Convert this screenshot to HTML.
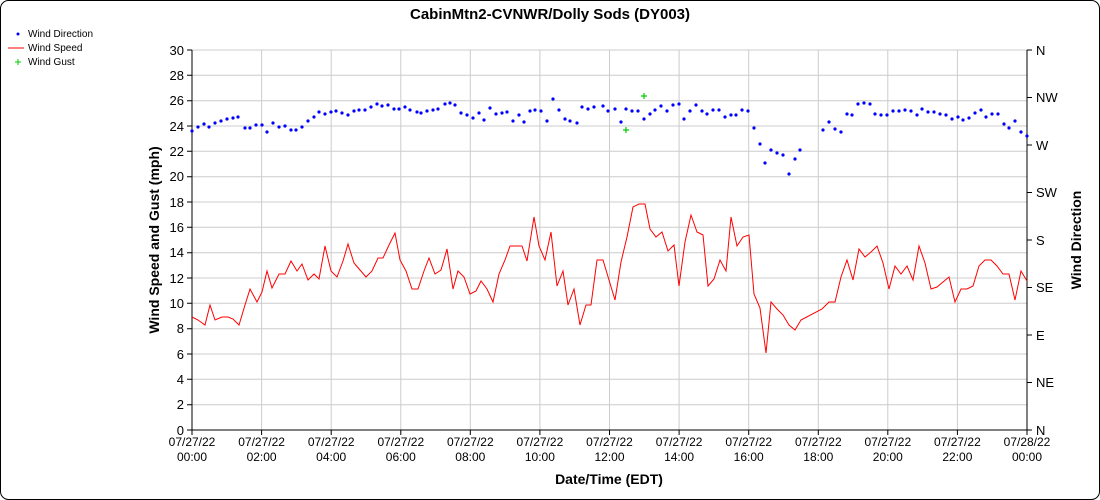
<!DOCTYPE html>
<html><head><meta charset="utf-8"><style>
body{margin:0;background:#fff;}
svg{display:block;font-family:"Liberation Sans",sans-serif;}
</style></head><body>
<svg width="1100" height="500" viewBox="0 0 1100 500">
<rect x="0.5" y="0.5" width="1099" height="499" rx="8" fill="#fff" stroke="#000"/>
<text x="550" y="19" font-size="15" font-weight="bold" text-anchor="middle">CabinMtn2-CVNWR/Dolly Sods (DY003)</text>
<g font-size="10">
<circle cx="18" cy="34" r="1.5" fill="#00f"/><text x="28" y="37">Wind Direction</text>
<line x1="8" y1="48" x2="24" y2="48" stroke="#f00"/><text x="28" y="51">Wind Speed</text>
<path d="M15 62h6M18 59v6" stroke="#0c0" fill="none"/><text x="28" y="65">Wind Gust</text>
</g>
<g stroke="#ccc" stroke-width="1" fill="none">
<path d="M192 50H1027M192 75.3H1027M192 100.7H1027M192 126H1027M192 151.3H1027M192 176.7H1027M192 202H1027M192 227.3H1027M192 252.7H1027M192 278H1027M192 303.3H1027M192 328.7H1027M192 354H1027M192 379.3H1027M192 404.7H1027"/>
<path d="M261.6 50V430M331.2 50V430M400.8 50V430M470.3 50V430M539.9 50V430M609.5 50V430M679.1 50V430M748.7 50V430M818.3 50V430M887.8 50V430M957.4 50V430"/>
</g>
<g stroke="#000" fill="none">
<path d="M192 50V430H1027V50"/>
<path d="M187 50H192M187 75.3H192M187 100.7H192M187 126H192M187 151.3H192M187 176.7H192M187 202H192M187 227.3H192M187 252.7H192M187 278H192M187 303.3H192M187 328.7H192M187 354H192M187 379.3H192M187 404.7H192M187 430H192"/>
<path d="M1027 50H1032M1027 97.5H1032M1027 145H1032M1027 192.5H1032M1027 240H1032M1027 287.5H1032M1027 335H1032M1027 382.5H1032M1027 430H1032"/>
<path d="M192 430V435M261.6 430V435M331.2 430V435M400.8 430V435M470.3 430V435M539.9 430V435M609.5 430V435M679.1 430V435M748.7 430V435M818.3 430V435M887.8 430V435M957.4 430V435M1027 430V435"/>
</g>
<g font-size="13" text-anchor="end">
<text x="184" y="55">30</text><text x="184" y="80">28</text><text x="184" y="105">26</text><text x="184" y="131">24</text><text x="184" y="156">22</text><text x="184" y="181">20</text><text x="184" y="207">18</text><text x="184" y="232">16</text><text x="184" y="257">14</text><text x="184" y="283">12</text><text x="184" y="308">10</text><text x="184" y="333">8</text><text x="184" y="359">6</text><text x="184" y="384">4</text><text x="184" y="409">2</text><text x="184" y="435">0</text>
</g>
<g font-size="13">
<text x="1036" y="55">N</text><text x="1036" y="102">NW</text><text x="1036" y="150">W</text><text x="1036" y="197">SW</text><text x="1036" y="245">S</text><text x="1036" y="292">SE</text><text x="1036" y="340">E</text><text x="1036" y="387">NE</text><text x="1036" y="435">N</text>
</g>
<g font-size="12" text-anchor="middle">
<text x="192" y="446">07/27/22</text><text x="192" y="461">00:00</text>
<text x="261.6" y="446">07/27/22</text><text x="261.6" y="461">02:00</text>
<text x="331.2" y="446">07/27/22</text><text x="331.2" y="461">04:00</text>
<text x="400.8" y="446">07/27/22</text><text x="400.8" y="461">06:00</text>
<text x="470.3" y="446">07/27/22</text><text x="470.3" y="461">08:00</text>
<text x="539.9" y="446">07/27/22</text><text x="539.9" y="461">10:00</text>
<text x="609.5" y="446">07/27/22</text><text x="609.5" y="461">12:00</text>
<text x="679.1" y="446">07/27/22</text><text x="679.1" y="461">14:00</text>
<text x="748.7" y="446">07/27/22</text><text x="748.7" y="461">16:00</text>
<text x="818.3" y="446">07/27/22</text><text x="818.3" y="461">18:00</text>
<text x="887.8" y="446">07/27/22</text><text x="887.8" y="461">20:00</text>
<text x="957.4" y="446">07/27/22</text><text x="957.4" y="461">22:00</text>
<text x="1027" y="446">07/28/22</text><text x="1027" y="461">00:00</text>
</g>
<text x="609" y="484" font-size="14" font-weight="bold" text-anchor="middle">Date/Time (EDT)</text>
<text transform="translate(159,240) rotate(-90)" font-size="14" font-weight="bold" text-anchor="middle">Wind Speed and Gust (mph)</text>
<text transform="translate(1081,240) rotate(-90)" font-size="14" font-weight="bold" text-anchor="middle">Wind Direction</text>
<polyline fill="none" stroke="#f00" stroke-width="1" points="192,317 198,320 205,325 210,305 215,320 222,317 228,317 233,319 239,325 245,305 250,289 257,302 262,292 267,271 272,288 279,274 285,274 291,261 297,271 302,264 308,280 314,274 319,279 325,246 331,271 337,277 343,261 348,244 354,263 360,270 366,277 372,271 378,258 383,258 389,245 395,233 400,260 406,271 412,289 418,289 424,271 429,258 435,274 441,270 447,249 453,289 458,271 464,277 470,294 476,291 481,281 487,289 493,302 499,274 505,260 510,246 516,246 522,246 527,261 534,217 539,246 545,260 551,232 557,286 563,271 568,305 574,289 580,325 586,305 591,305 597,260 603,260 609,280 615,300 621,262 627,237 633,207 639,204 645,204 650,229 656,237 662,232 668,251 674,245 679,286 685,242 691,215 697,232 703,235 708,286 714,279 720,260 726,271 731,217 737,246 743,237 749,235 754,294 760,308 766,353 771,302 777,309 783,315 789,325 795,330 801,320 822,309 829,302 835,302 841,277 847,260 853,280 859,249 865,257 871,252 877,246 883,263 889,289 895,266 901,274 907,266 913,280 919,246 925,263 931,289 937,287 943,282 949,277 955,302 961,289 967,289 973,286 979,266 985,260 991,260 997,266 1003,274 1009,274 1015,300 1021,271 1027,281"/>
<path fill="none" stroke="#00f" stroke-width="3.2" stroke-linecap="round" d="M192 131h0M198 127h0M204 124h0M209 127h0M215 123h0M221 121h0M227 119h0M233 118h0M238 117h0M245 128h0M250 128h0M256 125h0M262 125h0M267 132h0M273 123h0M279 127h0M285 126h0M291 130h0M296 130h0M302 127h0M308 121h0M314 117h0M319 112h0M325 114h0M331 112h0M336 111h0M342 113h0M348 115h0M354 111h0M359 110h0M365 110h0M371 107h0M377 104h0M382 106h0M388 105h0M394 109h0M399 109h0M405 107h0M410 110h0M417 112h0M421 113h0M427 111h0M433 110h0M438 109h0M445 104h0M450 103h0M455 105h0M461 113h0M467 115h0M473 118h0M479 113h0M484 120h0M490 108h0M496 114h0M502 113h0M507 112h0M513 121h0M519 115h0M524 122h0M530 111h0M535 110h0M541 111h0M547 121h0M553 99h0M559 110h0M565 119h0M570 121h0M577 123h0M582 107h0M588 109h0M594 107h0M603 106h0M608 111h0M615 109h0M621 122h0M626 109h0M632 111h0M638 111h0M644 119h0M650 114h0M655 110h0M661 106h0M667 111h0M673 105h0M679 104h0M684 119h0M690 111h0M696 105h0M702 111h0M707 114h0M713 110h0M719 110h0M725 117h0M731 115h0M736 115h0M742 110h0M748 111h0M754 128h0M760 144h0M765 163h0M771 150h0M777 153h0M783 155h0M789 174h0M795 159h0M800 150h0M823 130h0M829 122h0M835 129h0M841 132h0M847 114h0M852 115h0M858 104h0M864 103h0M870 104h0M875 114h0M881 115h0M887 115h0M893 111h0M899 111h0M905 110h0M911 111h0M917 115h0M922 109h0M928 112h0M934 112h0M940 114h0M946 115h0M952 119h0M958 117h0M963 120h0M969 118h0M975 113h0M981 110h0M986 117h0M992 114h0M998 114h0M1004 124h0M1009 128h0M1015 121h0M1021 132h0M1027 136h0"/>
<path d="M623 130h6M626 127v6M641 96h6M644 93v6" stroke="#0c0" stroke-width="1.2" fill="none"/>
</svg>
</body></html>
